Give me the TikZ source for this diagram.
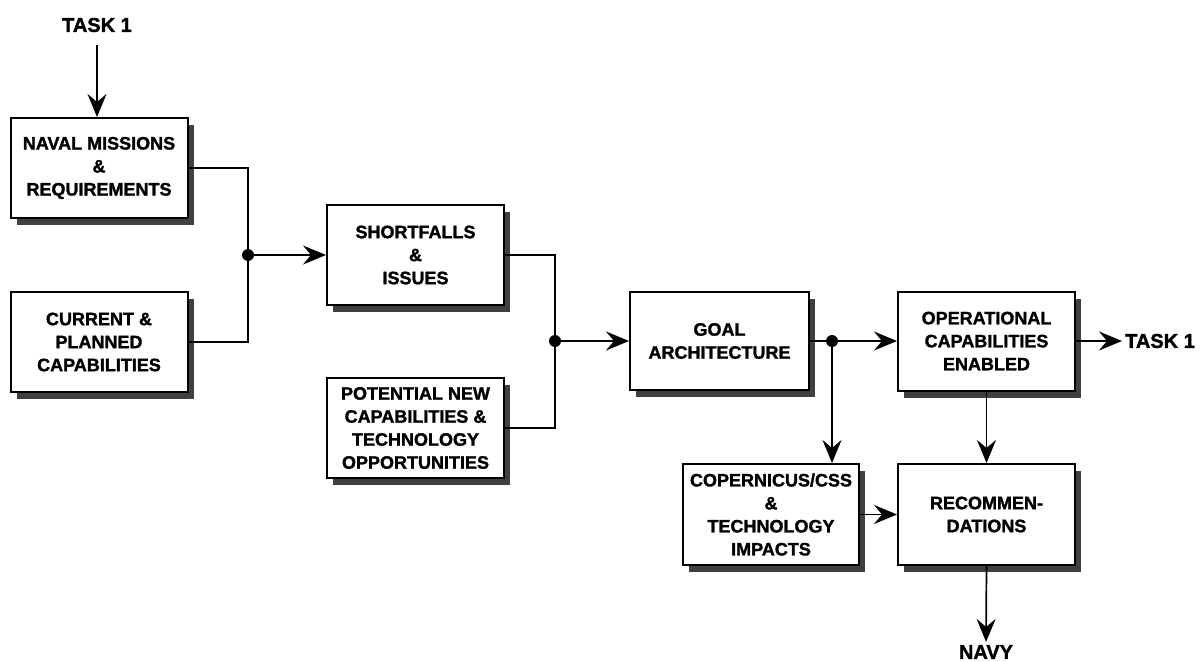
\documentclass[tikz,border=0pt]{standalone}
\usepackage{fontspec}
\setmainfont{Liberation Sans}[BoldFeatures={FakeBold=1.5}]
\usetikzlibrary{arrows.meta,shadows}

\begin{document}
\begin{tikzpicture}[x=1pt,y=-1pt,
  font=\bfseries\fontsize{18}{23}\selectfont,
  stagebox/.style={draw=black, line width=2pt, fill=white, align=center,
    inner sep=0pt, minimum width=177pt, minimum height=100pt,
    drop shadow={shadow xshift=6pt, shadow yshift=-7pt, fill=black!75, opacity=1}},
  label/.style={font=\bfseries\fontsize{20}{24}\selectfont, inner sep=3pt},
  flow/.style={line width=1.7pt, -{Stealth[length=23pt,width=19pt,inset=8pt]}},
  link/.style={line width=1.7pt},
  junction/.style={circle, fill=black, inner sep=0pt, minimum size=12pt}]

\useasboundingbox (0,0) rectangle (1201,661);

% stage boxes
\node[stagebox] (naval) at (99,168) {NAVAL MISSIONS\\\&\\REQUIREMENTS};
\node[stagebox] (current) at (99,342) {CURRENT \&\\PLANNED\\CAPABILITIES};
\node[stagebox] (short) at (415.5,255) {SHORTFALLS\\\&\\ISSUES};
\node[stagebox] (potential) at (415.5,428) {POTENTIAL NEW\\CAPABILITIES \&\\TECHNOLOGY\\OPPORTUNITIES};
\node[stagebox, minimum width=179pt, minimum height=98pt] (goal) at (719.5,341) {GOAL\\ARCHITECTURE};
\node[stagebox, minimum height=99pt] (oper) at (986.5,341) {OPERATIONAL\\CAPABILITIES\\ENABLED};
\node[stagebox, minimum width=176pt, minimum height=101pt] (cop) at (771,514.5) {COPERNICUS/CSS\\\&\\TECHNOLOGY\\IMPACTS};
\node[stagebox, minimum height=101pt] (rec) at (986.5,514.5) {RECOMMEN-\\DATIONS};

% end labels
\node[label] (tasktop) at (97,25) {TASK 1};
\node[label, anchor=west] (taskright) at (1122,341) {TASK 1};
\node[label] (navy) at (986,652) {NAVY};

% junction points
\node[junction] (j1) at (248,255) {};
\node[junction] (j2) at (555,341) {};
\node[junction] (j3) at (832,341) {};

% connectors
\draw[flow, shorten <=10pt] (tasktop.south) -- (tasktop.south |- naval.north);
\draw[link] (naval.east) -| (j1) |- (current.east);
\draw[flow] (j1) -- (short.west);
\draw[link] (short.east) -| (j2) |- (potential.east);
\draw[flow] (j2) -- (goal.west);
\draw[flow] (goal.east) -- (oper.west);
\draw[flow] (j3) -- (j3 |- cop.north);
\draw[flow] (cop.east) -- (rec.west);
\draw[flow] (oper.south) -- (rec.north);
\draw[flow] (oper.east) -- (taskright.west);
\draw[flow] (rec.south) -- (navy.north);

\end{tikzpicture}
\end{document}
